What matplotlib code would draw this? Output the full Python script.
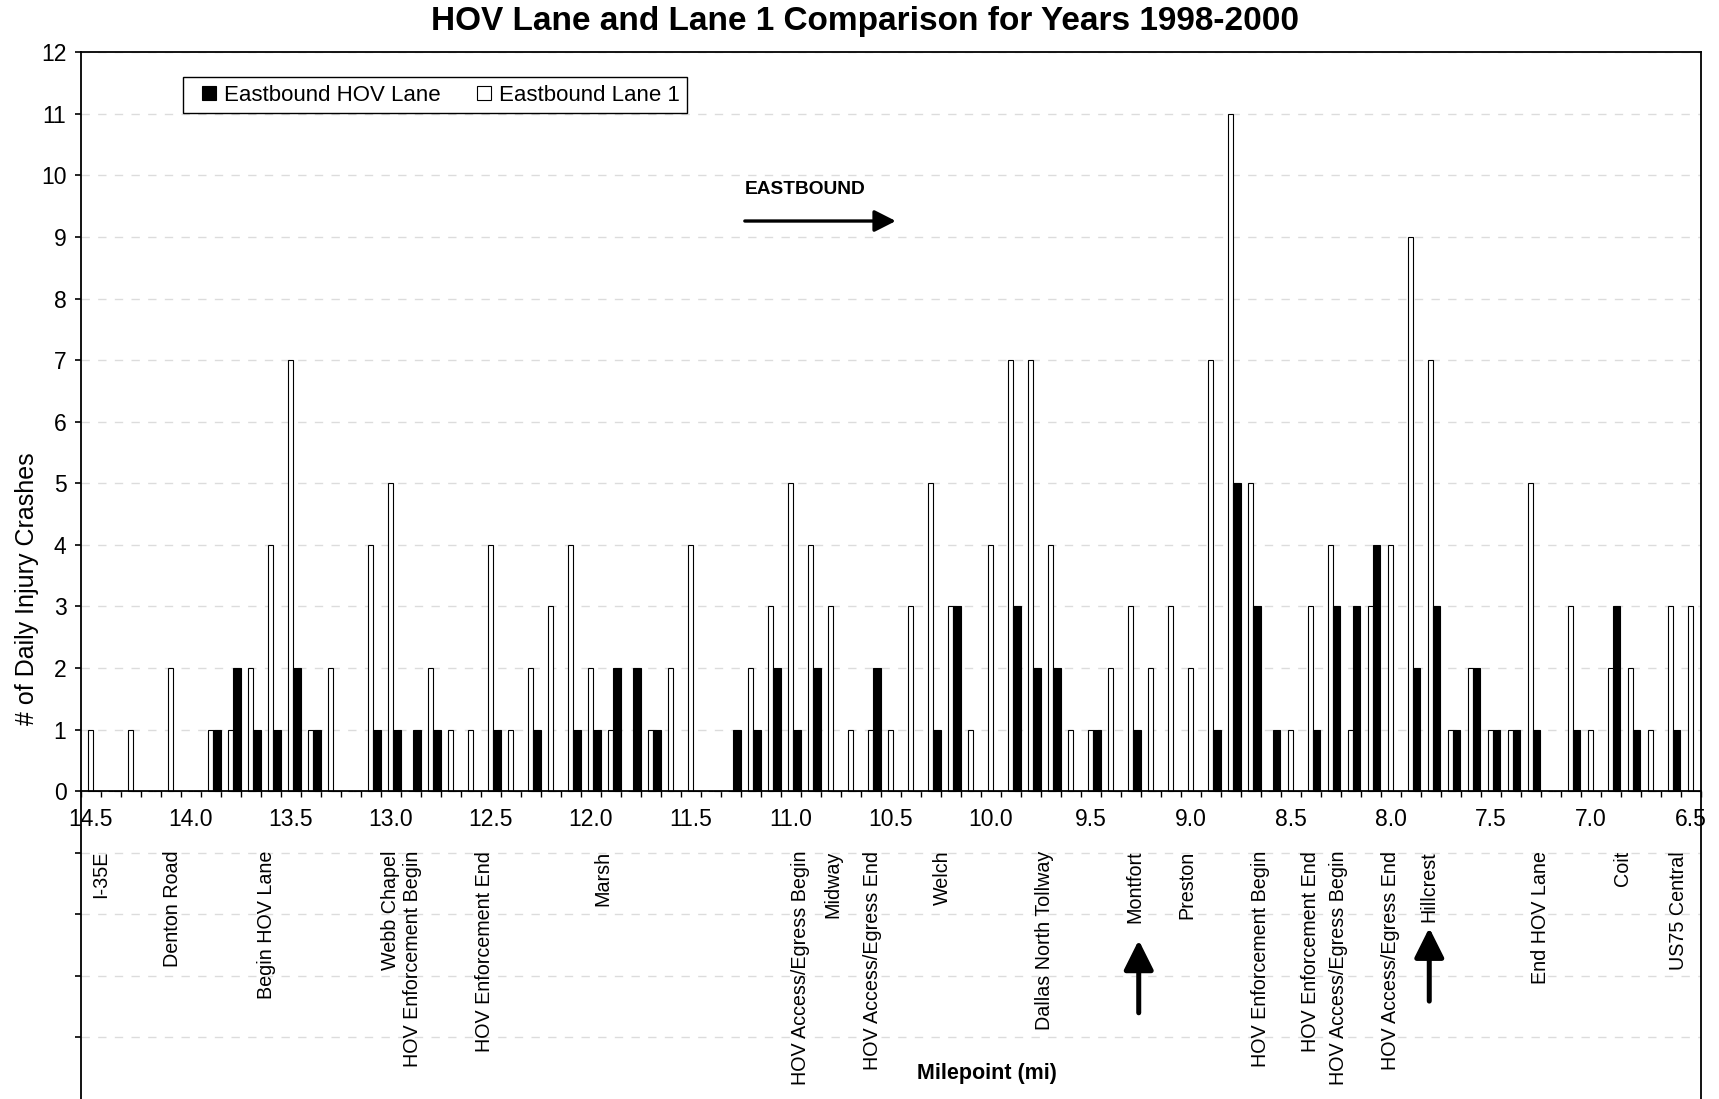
import numpy as np
import matplotlib.pyplot as plt
from matplotlib.lines import Line2D

plt.rcParams['font.family'] = ['Liberation Sans', 'DejaVu Sans']
NARROW = ['Liberation Sans Narrow', 'Liberation Sans', 'DejaVu Sans']

# ─── data: crashes per 0.1 mi segment, milepoint 14.5 -> 6.5 ───────────────
milepoints = [14.5, 14.4, 14.3, 14.2, 14.1, 14.0, 13.9, 13.8, 13.7, 13.6,
              13.5, 13.4, 13.3, 13.2, 13.1, 13.0, 12.9, 12.8, 12.7, 12.6,
              12.5, 12.4, 12.3, 12.2, 12.1, 12.0, 11.9, 11.8, 11.7, 11.6,
              11.5, 11.4, 11.3, 11.2, 11.1, 11.0, 10.9, 10.8, 10.7, 10.6,
              10.5, 10.4, 10.3, 10.2, 10.1, 10.0, 9.9, 9.8, 9.7, 9.6,
              9.5, 9.4, 9.3, 9.2, 9.1, 9.0, 8.9, 8.8, 8.7, 8.6,
              8.5, 8.4, 8.3, 8.2, 8.1, 8.0, 7.9, 7.8, 7.7, 7.6,
              7.5, 7.4, 7.3, 7.2, 7.1, 7.0, 6.9, 6.8, 6.7, 6.6,
              6.5]

lane1 = [1, 0, 1, 0, 2, 0, 1, 1, 2, 4,
         7, 1, 2, 0, 4, 5, 0, 2, 1, 1,
         4, 1, 2, 3, 4, 2, 1, 0, 1, 2,
         4, 0, 0, 2, 3, 5, 4, 3, 1, 1,
         1, 3, 5, 3, 1, 4, 7, 7, 4, 1,
         1, 2, 3, 2, 3, 2, 7, 11, 5, 0,
         1, 3, 4, 1, 3, 4, 9, 7, 1, 2,
         1, 1, 5, 0, 3, 1, 2, 2, 1, 3,
         3]

hov = [0, 0, 0, 0, 0, 0, 1, 2, 1, 1,
       2, 1, 0, 0, 1, 1, 1, 1, 0, 0,
       1, 0, 1, 0, 1, 1, 2, 2, 1, 0,
       0, 0, 1, 1, 2, 1, 2, 0, 0, 2,
       0, 0, 1, 3, 0, 0, 3, 2, 2, 0,
       1, 0, 1, 0, 0, 0, 1, 5, 3, 1,
       0, 1, 3, 3, 4, 0, 2, 3, 1, 2,
       1, 1, 1, 0, 1, 0, 3, 1, 0, 1,
       0]

# landmarks along the corridor (approx. milepoint)
landmark_names = ['I-35E', 'Denton Road', 'Begin HOV Lane', 'Webb Chapel',
                  'HOV Enforcement Begin', 'HOV Enforcement End', 'Marsh',
                  'HOV Access/Egress Begin', 'Midway', 'HOV Access/Egress End',
                  'Welch', 'Dallas North Tollway', 'Montfort', 'Preston',
                  'HOV Enforcement Begin', 'HOV Enforcement End',
                  'HOV Access/Egress Begin', 'HOV Access/Egress End',
                  'Hillcrest', 'End HOV Lane', 'Coit', 'US75 Central']
landmark_mp = [14.45, 14.09, 13.62, 13.00, 12.89, 12.53, 11.94,
               10.95, 10.79, 10.59, 10.24, 9.73, 9.28, 9.02,
               8.65, 8.40, 8.26, 8.00, 7.81, 7.25, 6.84, 6.56]


def mp_to_x(mp):
    return (milepoints[0] - mp) / 0.1


fig = plt.figure(figsize=(17.19, 10.99), dpi=100)
ax = fig.add_axes([0.0471, 0.0, 0.9422, 0.9524])

x = np.arange(len(milepoints))
ax.bar(x - 0.03, lane1, width=0.25, color='white', edgecolor='black',
       linewidth=0.8, zorder=2)
ax.bar(x + 0.30, hov, width=0.38, color='black', edgecolor='black',
       linewidth=0.8, zorder=3)

ax.set_xlim(-0.5, len(milepoints) - 0.5)
ax.set_ylim(-5, 12)

# axis line sits at zero, the lower band holds the landmark names
ax.spines['bottom'].set_position(('data', 0))
for s in ax.spines.values():
    s.set_linewidth(1.3)
    s.set_color('black')

yt = list(range(-4, 13))
ax.set_yticks(yt)
ax.set_yticklabels([str(v) if v >= 0 else '' for v in yt])
ax.tick_params(axis='y', length=4.5, width=1.2, pad=6, labelsize=16.5)

ax.set_xticks(np.arange(-0.5, len(milepoints), 1))
ax.set_xticks(x[::5], minor=True)
ax.set_xticklabels(['%.1f' % m for m in milepoints[::5]], minor=True)
ax.tick_params(axis='x', which='major', length=4.5, width=1.0, labelbottom=False)
ax.tick_params(axis='x', which='minor', length=0, pad=12, labelsize=16.5)
for lab in ax.get_yticklabels() + ax.get_xticklabels(minor=True):
    lab.set_family(NARROW)

ax.grid(axis='y', which='major', linestyle=(0, (6, 6)), color='#dcdcdc', lw=1.0)
ax.set_axisbelow(True)

for name, mp in zip(landmark_names, landmark_mp):
    ax.text(mp_to_x(mp), -0.97, name, rotation=90, ha='center', va='top',
            fontsize=14.2)

ax.text(mp_to_x(10.02), -4.59, 'Milepoint (mi)', ha='center', va='center',
        fontsize=15.5, fontweight='bold')

# direction marker
ax.text(32.7, 9.77, 'EASTBOUND', ha='left', va='center', fontsize=13.8,
        fontweight='bold')
ax.annotate('', xy=(40.25, 9.26), xytext=(32.7, 9.26),
            arrowprops=dict(arrowstyle='-|>,head_length=0.65,head_width=0.33',
                            color='black', lw=2.4, shrinkA=0, shrinkB=0,
                            mutation_scale=20))
for xa, y_tip, y_tail in [(52.4, -2.42, -3.60), (66.93, -2.22, -3.41)]:
    ax.annotate('', xy=(xa, y_tip), xytext=(xa, y_tail),
                arrowprops=dict(arrowstyle='-|>,head_length=0.9,head_width=0.45',
                                color='black', lw=3.6, shrinkA=0, shrinkB=0,
                                mutation_scale=20))

handles = [Line2D([], [], ls='none', marker='s', markersize=9.5,
                  markerfacecolor='black', markeredgecolor='black', mew=0.8),
           Line2D([], [], ls='none', marker='s', markersize=9.5,
                  markerfacecolor='white', markeredgecolor='black', mew=0.8)]
leg = ax.legend(handles, ['Eastbound HOV Lane', 'Eastbound Lane 1'],
                loc='upper left', bbox_to_anchor=(0.063, 0.976), ncol=2,
                frameon=True, fancybox=False, edgecolor='black', framealpha=1,
                fontsize=16, handlelength=1.68, handletextpad=-0.15,
                columnspacing=1.09, borderpad=0.33, borderaxespad=0)
leg.get_frame().set_linewidth(1.0)

fig.text(27 / 1719, 1 - 589 / 1099, '# of Daily Injury Crashes', rotation=90,
         ha='center', va='center', fontsize=18)
fig.text(0.503, 0.98, 'HOV Lane and Lane 1 Comparison for Years 1998-2000',
         ha='center', va='center', fontsize=24, fontweight='bold')

fig.savefig('out.png', dpi=100)
